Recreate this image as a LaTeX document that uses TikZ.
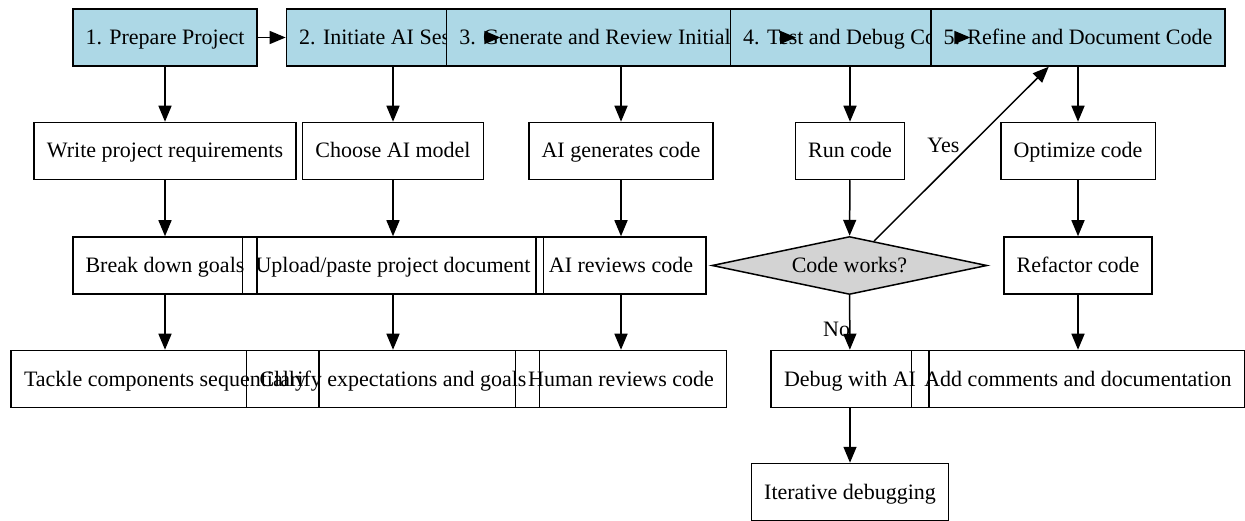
\documentclass[tikz,border=0pt]{standalone}
\usepackage{fontspec}
\setmainfont{Liberation Serif}
\usepackage{tikz}
\usetikzlibrary{arrows.meta,shapes.geometric}
\definecolor{StepBlue}{HTML}{ADD8E6}
\definecolor{TestGray}{HTML}{D3D3D3}

\begin{document}
\begin{tikzpicture}[x=1pt,y=-1pt]
\tikzset{every node/.style={font=\fontsize{22}{26}\selectfont, text height=16pt, text depth=2pt}}
\tikzset{step style/.style={draw, line width=1.5pt, fill=StepBlue, minimum height=57pt, inner xsep=12.8pt}}
\tikzset{task style/.style={draw, line width=1.5pt, minimum height=57pt, inner xsep=12.8pt}}
\tikzset{test style/.style={draw, diamond, aspect=4.7, fill=TestGray, line width=1.5pt, minimum width=275pt, minimum height=58pt, inner sep=0pt}}
\tikzset{edge/.style={line width=1.5pt, -{Triangle[length=16pt,width=13pt]}}}
\tikzset{lab style/.style={inner sep=2pt}}
\useasboundingbox (0,0) rectangle (1245,521);

% the five steps
\node[step style] (S1) at (165,37.5) {1. Prepare Project};
\node[step style] (S2) at (393,37.5) {2. Initiate AI Session};
\node[step style] (S3) at (621,37.5) {3. Generate and Review Initial Code};
\node[step style] (S4) at (850,37.5) {4. Test and Debug Code};
\node[step style] (S5) at (1078,37.5) {5. Refine and Document Code};

\node[task style] (W) at (165,151) {Write project requirements};
\node[task style] (B) at (165,265.5) {Break down goals};
\node[task style] (T) at (165,379) {Tackle components sequentially};

\node[task style] (C) at (393,151) {Choose AI model};
\node[task style] (U) at (393,265.5) {Upload/paste project document};
\node[task style] (L) at (393,379) {Clarify expectations and goals};

\node[task style] (G) at (621,151) {AI generates code};
\node[task style] (A) at (621,265.5) {AI reviews code};
\node[task style] (H) at (621,379) {Human reviews code};

\node[task style] (R) at (850,151) {Run code};
\node[test style] (D) at (849.5,265.5) {Code works?};
\node[task style] (X) at (850,379) {Debug with AI};
\node[task style] (I) at (850,492) {Iterative debugging};

\node[task style] (O) at (1078,151) {Optimize code};
\node[task style] (F) at (1078,265.5) {Refactor code};
\node[task style] (M) at (1078,379) {Add comments and documentation};

\draw[edge] (S1) -- (S2);
\draw[edge] ([xshift=-1pt]S2.east) -- (S2.east);
\draw[edge] ([xshift=-1pt]S3.east) -- (S3.east);
\draw[edge] ([xshift=-1pt]S4.east) -- (S4.east);

\draw[edge] (S1) -- (W);
\draw[edge] (W) -- (B);
\draw[edge] (B) -- (T);
\draw[edge] (S2) -- (C);
\draw[edge] (C) -- (U);
\draw[edge] (U) -- (L);
\draw[edge] (S3) -- (G);
\draw[edge] (G) -- (A);
\draw[edge] (A) -- (H);
\draw[edge] (S4) -- (R);
\draw[edge] (R) -- (D);
\draw[edge] (D) -- node[lab style, pos=0.62, anchor=east, xshift=3pt]{No} (X);
\draw[edge] (D) -- node[lab style, pos=0.55, anchor=east, xshift=-8pt]{Yes} (S5);
\draw[edge] (X) -- (I);
\draw[edge] (S5) -- (O);
\draw[edge] (O) -- (F);
\draw[edge] (F) -- (M);
\end{tikzpicture}
\end{document}
